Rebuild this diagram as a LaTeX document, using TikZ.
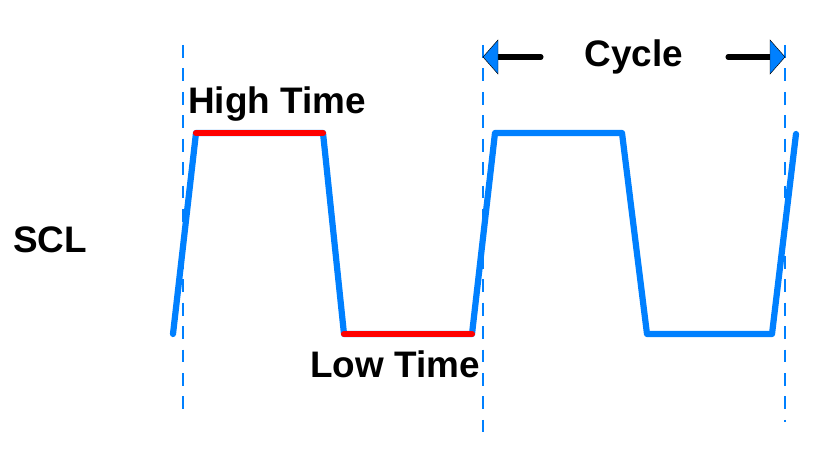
\documentclass[tikz,border=0pt]{standalone}
\usepackage{fontspec}
\setmainfont{Liberation Sans}
\begin{document}
\begin{tikzpicture}[x=0.03cm,y=-0.03cm,
  wave/.style={line width=5.3pt, color=wblue, line join=round, line cap=round},
  redseg/.style={line width=5.3pt, color=red, line cap=round},
  guide/.style={line width=0.9pt, color=wblue, dash pattern=on 11pt off 9pt},
  lbl/.style={font=\bfseries\fontsize{31.5}{31.5}\selectfont, inner sep=0pt, text=black},
  dimline/.style={line width=4.3pt, black, line cap=round},
  head/.style={fill=wblue, draw=black, line width=0.4pt}]
\definecolor{wblue}{HTML}{0080FF}
\useasboundingbox (0,0) rectangle (829,453);
% guide lines
\coordinate (g1t) at (183,45); \coordinate (g1b) at (183,417);
\coordinate (g2t) at (483,45); \coordinate (g2b) at (483,432);
\coordinate (g3t) at (785,45); \coordinate (g3b) at (785,422);
\draw[guide] (g1t) -- (g1b);
\draw[guide] (g2t) -- (g2b);
\draw[guide] (g3t) -- (g3b);
% waveform points
\coordinate (p0) at (173,334);
\coordinate (p1) at (196,133);
\coordinate (p2) at (323,133);
\coordinate (p3) at (344,334);
\coordinate (p4) at (472,334);
\coordinate (p5) at (495,133);
\coordinate (p6) at (622,133);
\coordinate (p7) at (647,334);
\coordinate (p8) at (772,334);
\coordinate (p9) at (796,134);
\draw[wave] (p0) -- (p1) -- (p2) -- (p3) -- (p4) -- (p5) -- (p6) -- (p7) -- (p8) -- (p9);
\draw[redseg] (p1) -- (p2);
\draw[redseg] (p3) -- (p4);
% labels
\node[lbl] (high) at (277,104) {High Time};
\node[lbl] (low) at (395,364) {Low Time};
\node[lbl] (cyc) at (634,57) {Cycle};
\node[lbl] (scl) at (50,240) {SCL};
% cycle arrows
\coordinate (la) at (497,57); \coordinate (lb) at (541,57);
\coordinate (ra) at (728,57); \coordinate (rb) at (771,57);
\draw[dimline] (la) -- (lb);
\draw[dimline] (ra) -- (rb);
\draw[head] (483,57) -- (498,40) -- (498,74) -- cycle;
\draw[head] (785,57) -- (770,40) -- (770,74) -- cycle;
\end{tikzpicture}
\end{document}
